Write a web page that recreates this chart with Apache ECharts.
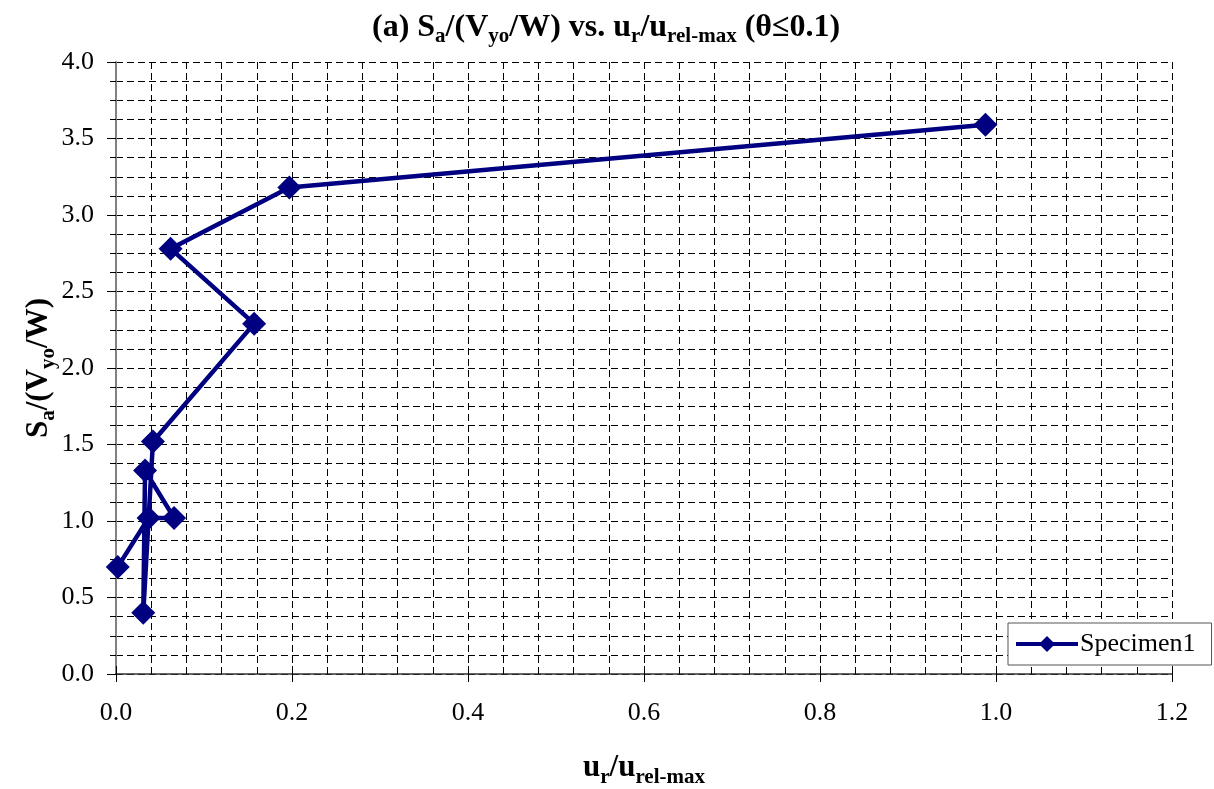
<!DOCTYPE html>
<html>
<head>
<meta charset="utf-8">
<script src="https://cdn.jsdelivr.net/npm/echarts@6/dist/echarts.min.js"></script>
<style>
html,body{margin:0;padding:0;background:#fff;}
#c{width:1214px;height:789px;}
</style>
</head>
<body>
<div id="c"></div>
<script>
// Data (path order as drawn)
const xValues = [0.002, 0.037, 0.066, 0.033, 0.031, 0.042, 0.157, 0.062, 0.197, 0.988];
const yValues = [0.70, 1.02, 1.02, 1.33, 0.40, 1.52, 2.29, 2.78, 3.18, 3.59];
const seriesName = 'Specimen1';
const xTicks = [0, 0.2, 0.4, 0.6, 0.8, 1.0, 1.2];
const yTicks = [0, 0.5, 1.0, 1.5, 2.0, 2.5, 3.0, 3.5, 4.0];

const points = xValues.map((x, i) => [x, yValues[i]]);
const FONT = '"Liberation Serif", "Times New Roman", serif';
const gridLine = { show: true, lineStyle: { color: '#000', width: 1, type: [7, 4] } };
const subStyle = (fs) => ({ fontFamily: FONT, fontWeight: 'bold', fontSize: fs, lineHeight: fs, verticalAlign: 'bottom', color: '#000' });

const chart = echarts.init(document.getElementById('c'), null, { renderer: 'canvas' });
chart.setOption({
  backgroundColor: '#fff',
  animation: false,
  title: {
    text: '(a) S{s|a}/(V{s|yo}/W) vs. u{s|r}/u{s|rel-max} (θ≤0.1)',
    left: 367,
    top: 4,
    textStyle: {
      fontFamily: FONT, fontWeight: 'bold', fontSize: 32, color: '#000',
      lineHeight: 38,
      rich: { s: subStyle(21) }
    }
  },
  grid: { left: 116, right: 42, top: 62, bottom: 115, containLabel: false, outerBoundsMode: 'none' },
  legend: {
    show: true,
    data: [seriesName],
    left: 1008, top: 623,
    orient: 'vertical',
    backgroundColor: '#fff',
    borderColor: '#555',
    borderWidth: 1,
    padding: [8, 16, 8, 6],
    itemWidth: 62, itemHeight: 20,
    itemGap: 4,
    lineStyle: { width: 4, color: '#000080' },
    textStyle: { fontFamily: FONT, fontSize: 26, color: '#000', padding: [0, 0, 0, -3] }
  },
  xAxis: [{
    type: 'value', min: 0, max: 1.2, interval: 0.2,
    name: 'u{s|r}/u{s|rel-max}',
    nameLocation: 'middle', nameGap: 74,
    nameMoveOverlap: false,
    nameTextStyle: {
      fontFamily: FONT, fontWeight: 'bold', fontSize: 31, color: '#000', lineHeight: 40,
      rich: { s: subStyle(21) }
    },
    axisLine: { show: true, onZero: false, lineStyle: { color: '#333', width: 1.5 } },
    axisTick: { show: true, inside: false, length: 8, lineStyle: { color: '#000', width: 1 } },
    minorTick: { show: false, splitNumber: 5 },
    axisLabel: { fontFamily: FONT, fontSize: 26, color: '#000', margin: 26, formatter: v => v.toFixed(1) },
    splitLine: gridLine,
    minorSplitLine: gridLine
  }, {
    type: 'value', min: 0, max: 1.2, interval: 0.2, position: 'bottom',
    axisLine: { show: false, onZero: false },
    axisTick: { show: true, inside: true, length: 8, lineStyle: { color: '#000', width: 1 } },
    minorTick: { show: true, splitNumber: 5, length: 7, lineStyle: { color: '#000', width: 1 } },
    axisLabel: { show: false },
    splitLine: { show: false }
  }],
  yAxis: [{
    type: 'value', min: 0, max: 4, interval: 0.5,
    name: 'S{s|a}/(V{s|yo}/W)',
    nameLocation: 'middle', nameGap: 57, nameRotate: 90,
    nameMoveOverlap: false,
    nameTextStyle: {
      fontFamily: FONT, fontWeight: 'bold', fontSize: 31, color: '#000', lineHeight: 40,
      rich: { s: subStyle(21) }
    },
    axisLine: { show: true, onZero: false, lineStyle: { color: '#808080', width: 2 } },
    axisTick: { show: true, inside: false, length: 9, lineStyle: { color: '#000', width: 1 } },
    minorTick: { show: false, splitNumber: 4 },
    axisLabel: { fontFamily: FONT, fontSize: 26, color: '#000', margin: 22, formatter: v => v.toFixed(1) },
    splitLine: gridLine,
    minorSplitLine: gridLine
  }, {
    type: 'value', min: 0, max: 4, interval: 0.5, position: 'left',
    axisLine: { show: false, onZero: false },
    axisTick: { show: false },
    minorTick: { show: true, splitNumber: 4, length: 6, lineStyle: { color: '#000', width: 1 } },
    axisLabel: { show: false },
    splitLine: { show: false }
  }],
  series: [{
    name: seriesName,
    type: 'line',
    data: points,
    color: '#000080',
    lineStyle: { color: '#000080', width: 4.5 },
    itemStyle: { color: '#000080' },
    symbol: 'diamond',
    symbolSize: 24,
    showAllSymbol: true,
    z: 5
  }]
});
</script>
</body>
</html>
